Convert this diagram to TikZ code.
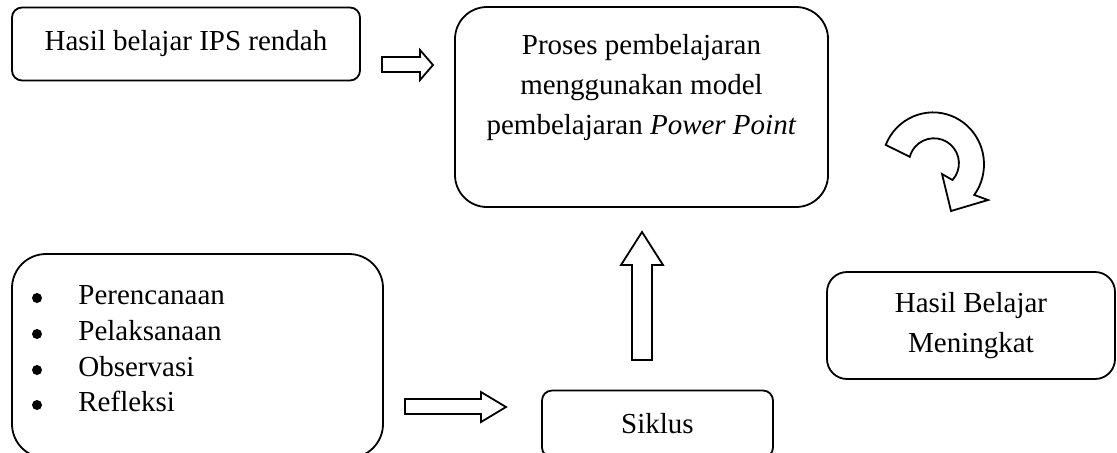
\documentclass[tikz,border=0pt]{standalone}
\usepackage{fontspec}
\setmainfont{Liberation Serif}
\begin{document}
\begin{tikzpicture}[x=0.5pt,y=-0.5pt,
  txt/.style={font=\fontsize{14.5}{20}\selectfont, inner sep=0pt, align=center},
  bul/.style={circle, fill, inner sep=0pt, minimum size=5pt},
  rbox/.style={draw, line width=0.9pt, rectangle, inner sep=0pt},
  barrow/.style={draw, line width=0.9pt, fill=white, line join=miter}]
\useasboundingbox (0,0) rectangle (1117,452);
% boxes
\node[rbox, rounded corners=5pt, minimum width=174pt, minimum height=36.5pt, txt] (rendah) at (186,44) {Hasil belajar IPS rendah};
\node[rbox, rounded corners=16pt, minimum width=186.5pt, minimum height=100pt] (proses) at (641.5,107) {};
\node[txt] (prosestxt) at (641.5,88) {Proses pembelajaran\\menggunakan model\\pembelajaran \textit{Power Point}};
\node[rbox, rounded corners=17pt, minimum width=185.5pt, minimum height=102pt] (langkah) at (197.5,356) {};
\node[rbox, rounded corners=5pt, minimum width=115.5pt, minimum height=33.5pt, txt] (siklus) at (657.5,424) {Siklus};
\node[rbox, rounded corners=10pt, minimum width=144pt, minimum height=53.5pt, txt] (meningkat) at (971,325.5) {Hasil Belajar\\Meningkat};
% bullet list
\foreach \y/\t/\n in {300/Perencanaan/a, 336/Pelaksanaan/b, 372/Observasi/c, 407/Refleksi/d}{
  \node[bul] (bul\n) at (37,\y-2) {};
  \node[txt, anchor=mid west] (item\n) at (78,\y) {\t};
}
% block arrow top (right)
\draw[barrow] (382,57) -- (420,57) -- (420,50) -- (433,65) -- (420,80) -- (420,72) -- (382,72) -- cycle;
% block arrow bottom (right)
\draw[barrow] (405,399) -- (481,399) -- (481,392) -- (506,407) -- (481,422) -- (481,414) -- (405,414) -- cycle;
% block arrow up
\draw[barrow] (632,360) -- (632,265) -- (621,265) -- (642,232) -- (663,265) -- (652,265) -- (652,360) -- cycle;
% curved arrow
\draw[barrow] (933,164) ++(-158:51) arc[start angle=-158, end angle=36, x radius=51, y radius=52]
  -- (988,200) -- (951,211) -- (942,174) -- (952.5,180)
  arc[start angle=42, end angle=-165, radius=25] -- cycle;
\end{tikzpicture}
\end{document}
